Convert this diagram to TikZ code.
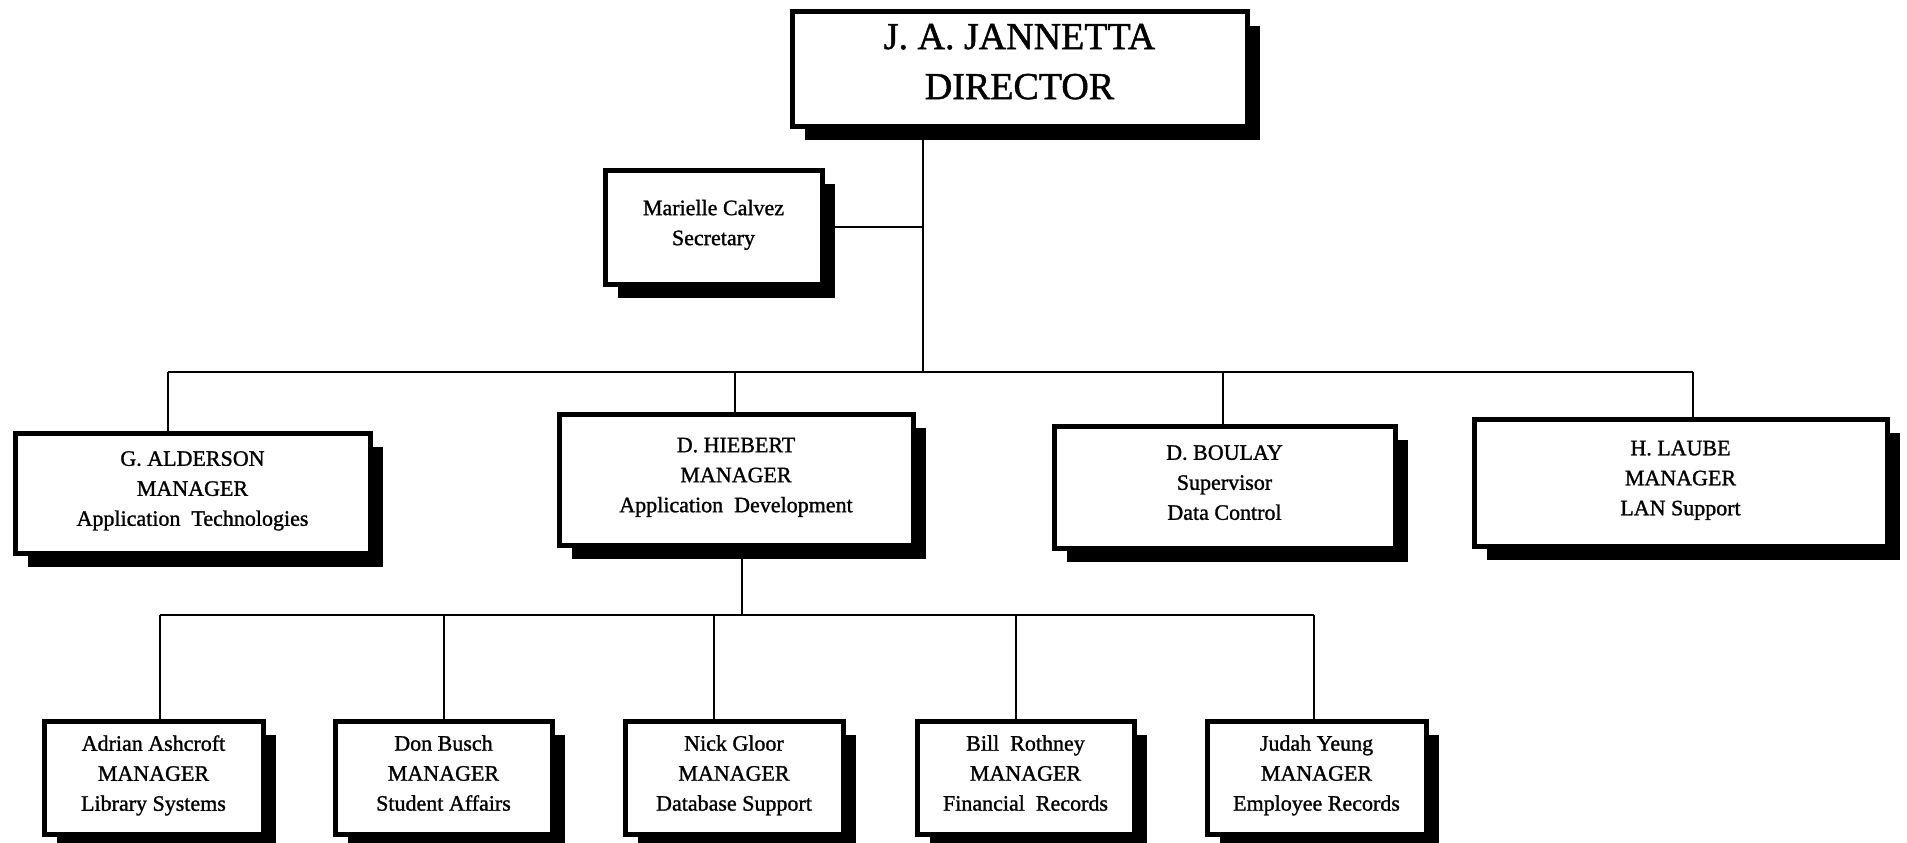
\documentclass[tikz,border=0pt]{standalone}
\usepackage{fontspec}
\setmainfont{Liberation Serif}[FakeBold=1.2]
\usetikzlibrary{shadows}
\tikzset{
  box/.style={draw=black, line width=5pt, fill=white, align=center, inner sep=0pt,
    drop shadow={shadow xshift=13pt, shadow yshift=-14pt, opacity=1, fill=black}},
  bigtext/.style={font=\fontsize{38}{50}\selectfont,
    execute at begin node=\strut, execute at end node=\strut},
  smalltext/.style={font=\fontsize{22}{30}\selectfont,
    execute at begin node={\rule{0pt}{29pt}}, execute at end node=\strut},
  link/.style={line width=2.4pt}
}
\begin{document}
\begin{tikzpicture}[x=1pt,y=-1pt]
\useasboundingbox (0,0) rectangle (1907,843);
% level 0
\node[box,bigtext,minimum width=455pt,minimum height=114pt] (dir) at (1019.5,69) {J. A. JANNETTA\\DIRECTOR};
\node[box,smalltext,minimum width=217pt,minimum height=114pt] (sec) at (713.5,227) {Marielle Calvez\\Secretary};
% level 1
\node[box,smalltext,minimum width=355pt,minimum height=120pt] (ald) at (192.5,493) {G. ALDERSON\\MANAGER\\Application~ Technologies};
\node[box,smalltext,minimum width=354pt,minimum height=131pt] (hie) at (736,479.5) {D. HIEBERT\\MANAGER\\Application~ Development};
\node[box,smalltext,minimum width=341pt,minimum height=122pt] (bou) at (1224.5,487) {D. BOULAY\\Supervisor\\Data Control};
\node[box,smalltext,minimum width=413pt,minimum height=127pt] (lau) at (1680.5,482.5) {H. LAUBE\\MANAGER\\LAN Support};
% level 2
\node[box,smalltext,minimum width=219pt,minimum height=113pt] (ash) at (153.5,777.5) {Adrian Ashcroft\\MANAGER\\Library Systems};
\node[box,smalltext,minimum width=217pt,minimum height=113pt] (bus) at (443.5,777.5) {Don Busch\\MANAGER\\Student Affairs};
\node[box,smalltext,minimum width=218pt,minimum height=113pt] (glo) at (734,777.5) {Nick Gloor\\MANAGER\\Database Support};
\node[box,smalltext,minimum width=217pt,minimum height=113pt] (rot) at (1025.5,777.5) {Bill~ Rothney\\MANAGER\\Financial~ Records};
\node[box,smalltext,minimum width=219pt,minimum height=113pt] (yeu) at (1316.5,777.5) {Judah Yeung\\MANAGER\\Employee Records};
% connector coordinates
\coordinate (t) at (923,372);
\coordinate (b1) at (168,372);
\coordinate (b2) at (735,372);
\coordinate (b3) at (1223,372);
\coordinate (b4) at (1693,372);
\coordinate (h) at (742,615);
\coordinate (c1) at (160,615);
\coordinate (c2) at (444,615);
\coordinate (c3) at (714,615);
\coordinate (c4) at (1016,615);
\coordinate (c5) at (1314,615);
% director trunk
\draw[link] (t |- dir.south) -- (t);
\draw[link] (sec.east) -- (sec.east -| t);
\draw[link] (b1) -- (b4);
\draw[link] (b1) -- (b1 |- ald.north);
\draw[link] (b2) -- (b2 |- hie.north);
\draw[link] (b3) -- (b3 |- bou.north);
\draw[link] (b4) -- (b4 |- lau.north);
% hiebert subtree
\draw[link] (h |- hie.south) -- (h);
\draw[link] (c1) -- (c5);
\draw[link] (c1) -- (c1 |- ash.north);
\draw[link] (c2) -- (c2 |- bus.north);
\draw[link] (c3) -- (c3 |- glo.north);
\draw[link] (c4) -- (c4 |- rot.north);
\draw[link] (c5) -- (c5 |- yeu.north);
\end{tikzpicture}
\end{document}
